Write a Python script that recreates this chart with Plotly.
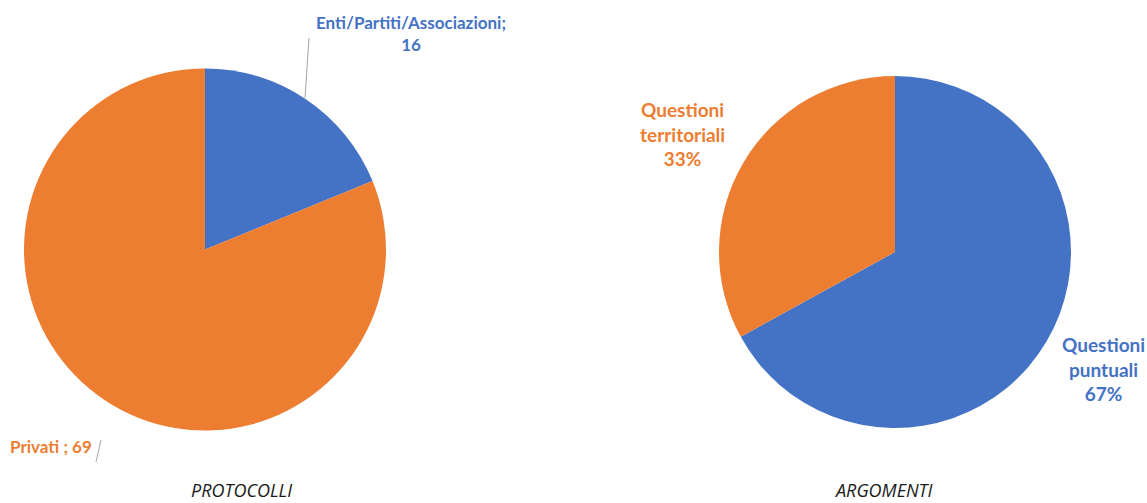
import plotly.graph_objects as go

# Data
protocolli_labels = ["Enti/Partiti/Associazioni", "Privati"]
protocolli_values = [16, 69]
argomenti_labels = ["Questioni puntuali", "Questioni territoriali"]
argomenti_values = [67, 33]
colors = ["#4472C4", "#ED7D31"]
titles = ["PROTOCOLLI", "ARGOMENTI"]

W, H = 1147, 503

def px(x):
    return x / W

def py(y):
    return 1 - y / H

fig = go.Figure()
fig.add_trace(go.Pie(
    labels=protocolli_labels, values=protocolli_values, sort=False,
    direction="clockwise", rotation=0, textinfo="none", hoverinfo="label+value",
    marker=dict(colors=colors), showlegend=False,
    domain=dict(x=[px(24), px(386)], y=[py(431), py(68)]),
))
fig.add_trace(go.Pie(
    labels=argomenti_labels, values=argomenti_values, sort=False,
    direction="clockwise", rotation=0, textinfo="none", hoverinfo="label+percent",
    marker=dict(colors=colors), showlegend=False,
    domain=dict(x=[px(719), px(1071)], y=[py(429), py(75)]),
))

fam = "Lato, Open Sans, sans-serif"
tot_a = sum(argomenti_values)
pct = [round(v * 100 / tot_a) for v in argomenti_values]

annotations = [
    dict(x=px(411), y=py(34), text=f"<b>{protocolli_labels[0]};<br>{protocolli_values[0]}</b>",
         font=dict(color="#4472C4", family=fam, size=17), xanchor="center", yanchor="middle"),
    dict(x=px(9), y=py(446), text=f"<b>{protocolli_labels[1]} ; {protocolli_values[1]}</b>",
         font=dict(color="#ED7D31", family=fam, size=17), xanchor="left", yanchor="middle"),
    dict(x=px(682), y=py(134), text="<b>" + argomenti_labels[1].replace(" ", "<br>") + f"<br>{pct[1]}%</b>",
         font=dict(color="#ED7D31", family=fam, size=19), xanchor="center", yanchor="middle"),
    dict(x=px(1103), y=py(369), text="<b>" + argomenti_labels[0].replace(" ", "<br>") + f"<br>{pct[0]}%</b>",
         font=dict(color="#4472C4", family=fam, size=19), xanchor="center", yanchor="middle"),
    dict(x=px(241), y=py(490), text=f"<i>{titles[0]}</i>",
         font=dict(color="#1a1a1a", family="Open Sans, sans-serif", size=18), xanchor="center", yanchor="middle"),
    dict(x=px(883), y=py(490), text=f"<i>{titles[1]}</i>",
         font=dict(color="#1a1a1a", family="Open Sans, sans-serif", size=18), xanchor="center", yanchor="middle"),
]
for a in annotations:
    a.update(xref="paper", yref="paper", showarrow=False, align="center", borderpad=0)

shapes = [
    dict(type="line", xref="paper", yref="paper", x0=px(305), y0=py(98), x1=px(309), y1=py(38),
         line=dict(color="#A6A6A6", width=1)),
    dict(type="line", xref="paper", yref="paper", x0=px(96), y0=py(462), x1=px(101), y1=py(440),
         line=dict(color="#A6A6A6", width=1)),
]

fig.update_layout(
    width=W, height=H, margin=dict(l=0, r=0, t=0, b=0),
    paper_bgcolor="white", plot_bgcolor="white",
    annotations=annotations, shapes=shapes,
)
fig.write_html("out.html", config={"displayModeBar": False},
               post_script="document.body.style.margin='0';document.body.style.overflow='hidden';")
